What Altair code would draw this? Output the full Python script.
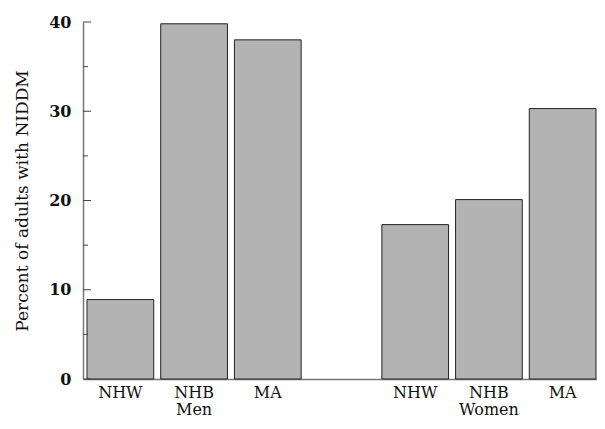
import altair as alt
import pandas as pd

# Data
keys = ["M_NHW", "M_NHB", "M_MA", "gap", "W_NHW", "W_NHB", "W_MA"]
bar_keys = ["M_NHW", "M_NHB", "M_MA", "W_NHW", "W_NHB", "W_MA"]
values = [8.9, 39.8, 38.0, 17.3, 20.1, 30.3]
group_keys = ["M_NHB", "W_NHB"]
group_labels = ["Men", "Women"]
major_ticks = [0, 10, 20, 30, 40]
minor_ticks = [5, 15, 25, 35]

FONT = "DejaVu Serif"
W, H = 514, 357

bars_df = pd.DataFrame({"key": bar_keys, "value": values})
groups_df = pd.DataFrame({"key": group_keys, "label": group_labels})
major_df = pd.DataFrame({"t": major_ticks})
minor_df = pd.DataFrame({"t": minor_ticks})

xscale = alt.Scale(domain=keys, paddingInner=0.095, paddingOuter=0.034, align=0.8)
yscale = alt.Scale(domain=[0, 40], nice=False)

bars = alt.Chart(bars_df).mark_bar(
    color="#b3b3b3", stroke="#222222", strokeWidth=1
).encode(
    x=alt.X("key:N", scale=xscale, sort=keys, axis=alt.Axis(
        title=None, ticks=False, labelAngle=0,
        labelExpr="datum.value == 'gap' ? '' : slice(datum.value, 2)",
        labelFont=FONT, labelFontSize=16, labelColor="#111111",
        labelPadding=5, domainColor="#777777", domainWidth=1.5,
    )),
    y=alt.Y("value:Q", scale=yscale, axis=alt.Axis(
        title="Percent of adults with NIDDM", values=major_ticks,
        ticks=False, grid=False, labelFont=FONT, labelFontSize=16,
        labelFontWeight="bold", labelColor="#111111", labelPadding=12,
        titleFont=FONT, titleFontSize=17, titleFontWeight="normal",
        titleColor="#111111", titlePadding=17,
        domainColor="#777777", domainWidth=1.5,
    )),
)

major_rules = alt.Chart(major_df).mark_rule(color="#444444", strokeWidth=1).encode(
    y=alt.Y("t:Q", scale=yscale),
    x=alt.value(0),
    x2=alt.value(8),
)
minor_rules = alt.Chart(minor_df).mark_rule(color="#444444", strokeWidth=1).encode(
    y=alt.Y("t:Q", scale=yscale),
    x=alt.value(0),
    x2=alt.value(5),
)

group_text = alt.Chart(groups_df).mark_text(
    font=FONT, fontSize=16, color="#111111", baseline="top"
).encode(
    x=alt.X("key:N", scale=xscale, sort=keys),
    y=alt.value(H + 23),
    text="label:N",
)

chart = alt.layer(bars, major_rules, minor_rules, group_text).properties(
    width=W, height=H,
    autosize=alt.AutoSizeParams(type="none"),
    padding={"left": 75, "top": 14, "right": 0, "bottom": 41},
).configure_view(stroke=None)

chart.save("out.html", embed_options={"renderer": "svg", "actions": False})
